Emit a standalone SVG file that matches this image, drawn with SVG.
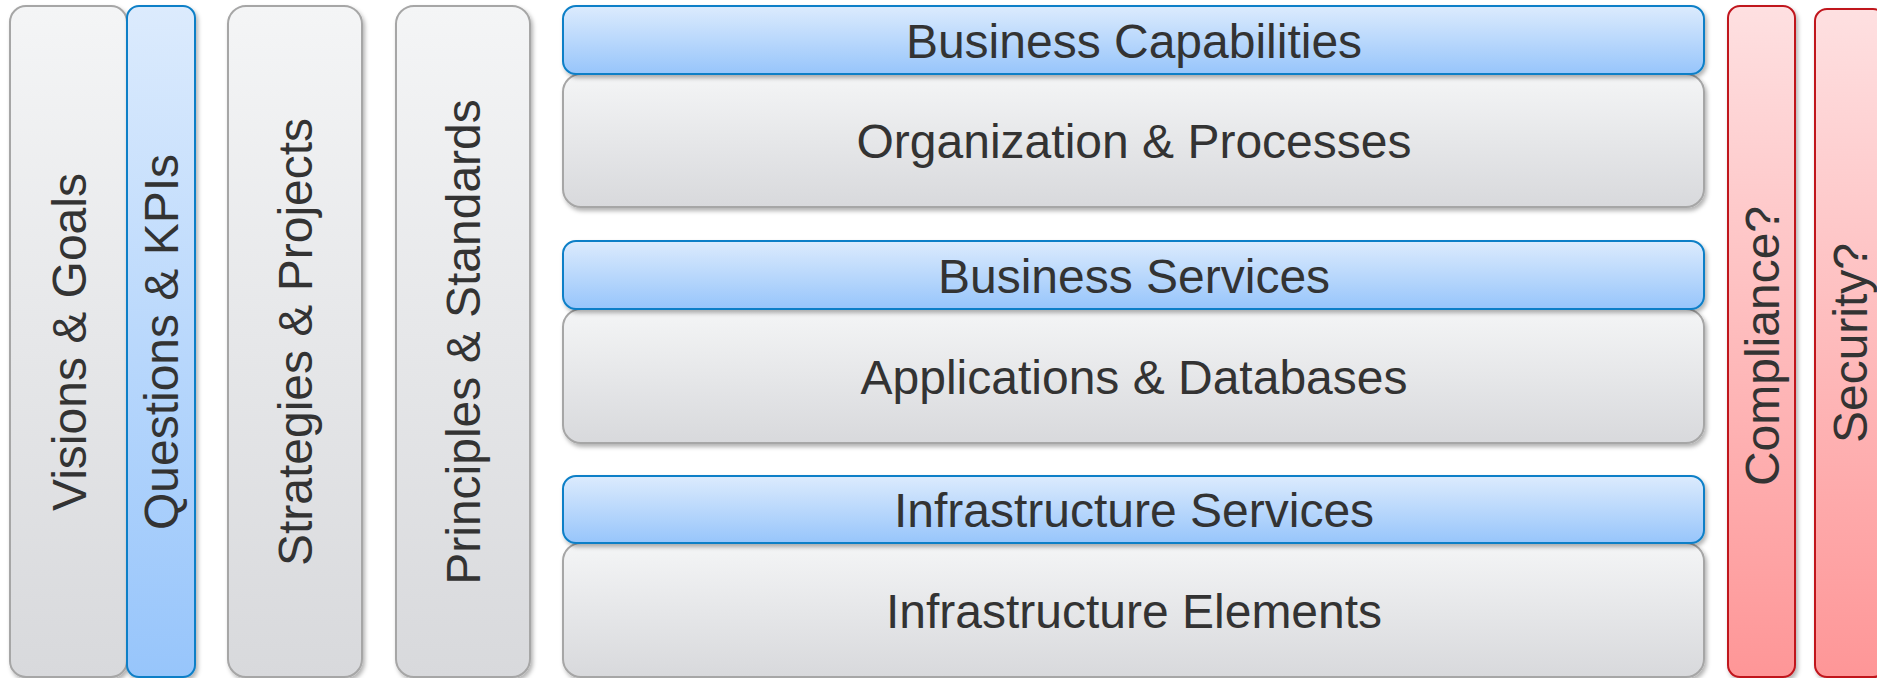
<svg xmlns="http://www.w3.org/2000/svg" width="1877" height="678" viewBox="0 0 1877 678">
<style>
text{font-family:"Liberation Sans",Arial,sans-serif;font-size:48px;fill:#333333;text-anchor:middle;}
.g{fill:url(#gGray);stroke:#a6a6a6;stroke-width:2;filter:url(#sh);}
.b{fill:url(#gBlue);stroke:#0b7fc7;stroke-width:2;filter:url(#sh);}
.r{fill:url(#gRed);stroke:#c0141c;stroke-width:2;filter:url(#sh);}
</style>
<defs>
<linearGradient id="gGray" x1="0" y1="0" x2="0" y2="1"><stop offset="0" stop-color="#f4f5f6"/><stop offset="1" stop-color="#d8d9dc"/></linearGradient>
<linearGradient id="gBlue" x1="0" y1="0" x2="0" y2="1"><stop offset="0" stop-color="#dcebfd"/><stop offset="1" stop-color="#97c5fb"/></linearGradient>
<linearGradient id="gRed" x1="0" y1="0" x2="0" y2="1"><stop offset="0" stop-color="#fee0e1"/><stop offset="1" stop-color="#fe9697"/></linearGradient>
<filter id="sh" x="-10%" y="-10%" width="130%" height="130%"><feDropShadow dx="2" dy="3" stdDeviation="2" flood-color="#000" flood-opacity="0.3"/></filter>
</defs>
<rect width="1877" height="678" fill="#ffffff"/>
<g id="visions"><rect class="g" x="10" y="6" width="117" height="671" rx="16"/><text transform="translate(69,342) rotate(-90)" y="17">Visions &amp; Goals</text></g>
<g id="questions"><rect class="b" x="127" y="6" width="68" height="671" rx="12"/><text transform="translate(161,342) rotate(-90)" y="17">Questions &amp; KPIs</text></g>
<g id="strategies"><rect class="g" x="228" y="6" width="134" height="671" rx="18"/><text transform="translate(295,342) rotate(-90)" y="17">Strategies &amp; Projects</text></g>
<g id="principles"><rect class="g" x="396" y="6" width="134" height="671" rx="18"/><text transform="translate(463,342) rotate(-90)" y="17">Principles &amp; Standards</text></g>
<g id="org"><rect class="g" x="563" y="74" width="1141" height="133" rx="18"/><text x="1134" y="158">Organization &amp; Processes</text></g>
<g id="bizcap"><rect class="b" x="563" y="6" width="1141" height="68" rx="13"/><text x="1134" y="58">Business Capabilities</text></g>
<g id="apps"><rect class="g" x="563" y="309" width="1141" height="134" rx="18"/><text x="1134" y="394">Applications &amp; Databases</text></g>
<g id="bizsvc"><rect class="b" x="563" y="241" width="1141" height="68" rx="13"/><text x="1134" y="293">Business Services</text></g>
<g id="infel"><rect class="g" x="563" y="543" width="1141" height="134" rx="18"/><text x="1134" y="628">Infrastructure Elements</text></g>
<g id="infsvc"><rect class="b" x="563" y="476" width="1141" height="67" rx="13"/><text x="1134" y="527">Infrastructure Services</text></g>
<g id="compliance"><rect class="r" x="1728" y="6" width="67" height="671" rx="12"/><text transform="translate(1762,346) rotate(-90)" y="17">Compliance?</text></g>
<g id="security"><rect class="r" x="1815" y="9" width="70" height="668" rx="12"/><text transform="translate(1850,343) rotate(-90)" y="17">Security?</text></g>
<g id="connectors"></g>
</svg>
